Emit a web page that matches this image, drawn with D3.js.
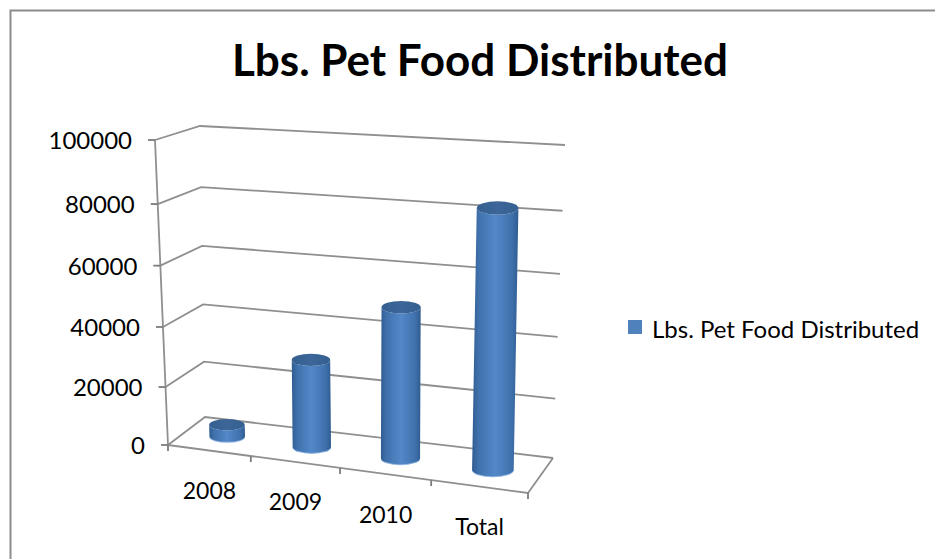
<!DOCTYPE html>
<html>
<head>
<meta charset="utf-8">
<style>
  html, body { margin: 0; padding: 0; background: #fff; }
  svg { display: block; }
  text { font-family: Lato, "Open Sans", sans-serif; fill: #000; }
</style>
<script src="https://cdnjs.cloudflare.com/ajax/libs/d3/7.8.5/d3.min.js"></script>
</head>
<body>
<div id="chart"></div>
<script>
// chart values
var categories = ["2008", "2009", "2010", "Total"];
var values = [4000, 29500, 49500, 83000];
var yTicks = [0, 20000, 40000, 60000, 80000, 100000];
var seriesName = "Lbs. Pet Food Distributed";
var title = "Lbs. Pet Food Distributed";

var svgWidth = 935;
var svgHeight = 559;

// corners of the 3d box as drawn, front/back + left/right, floor and ceiling
var floorFL = [168, 445], floorFR = [528, 493], floorBL = [205, 417], floorBR = [553, 458];
var topFL = [155, 140], topFR = [532, 163], topBL = [200, 126], topBR = [565, 145];

// gridlines get a bit tighter going up the wall, so not a straight line
var heightScale = d3.scaleLinear()
    .domain(yTicks)
    .range([0, 0.19, 0.387, 0.588, 0.79, 1]);

// categories get wider towards the right because of the perspective
var catScale = d3.scaleLinear()
    .domain([0, 1, 2, 3, 4])
    .range([0, 0.23, 0.478, 0.731, 1]);

function mix(a, b, t) {
  return [a[0] + (b[0] - a[0]) * t, a[1] + (b[1] - a[1]) * t];
}

// u = along the category axis, d = depth (0 front, 1 back), both 0-1
function project(u, d, value) {
  var floor = mix(mix(floorFL, floorFR, u), mix(floorBL, floorBR, u), d);
  var ceil = mix(mix(topFL, topFR, u), mix(topBL, topBR, u), d);
  return mix(floor, ceil, heightScale(value));
}

var svg = d3.select("#chart")
    .append("svg")
    .attr("width", svgWidth)
    .attr("height", svgHeight);

var defs = svg.append("defs");

var sideGrad = defs.append("linearGradient").attr("id", "side");
sideGrad.append("stop").attr("offset", "0%").attr("stop-color", "#2f5c90");
sideGrad.append("stop").attr("offset", "14%").attr("stop-color", "#3f71ac");
sideGrad.append("stop").attr("offset", "50%").attr("stop-color", "#5388c8");
sideGrad.append("stop").attr("offset", "86%").attr("stop-color", "#3f71ac");
sideGrad.append("stop").attr("offset", "100%").attr("stop-color", "#2f5c90");

var capGrad = defs.append("linearGradient").attr("id", "cap");
capGrad.append("stop").attr("offset", "0%").attr("stop-color", "#34608f");
capGrad.append("stop").attr("offset", "50%").attr("stop-color", "#3c6699");
capGrad.append("stop").attr("offset", "100%").attr("stop-color", "#34608f");

defs.append("filter").attr("id", "soft")
    .append("feGaussianBlur").attr("stdDeviation", 0.5);

// chart area border, only top and left show in the picture
svg.append("path")
    .attr("d", "M10.5," + svgHeight + "V10.5H" + svgWidth)
    .attr("fill", "none")
    .attr("stroke", "#8c8c8c")
    .attr("stroke-width", 2);

svg.append("text")
    .attr("x", 480)
    .attr("y", 76)
    .attr("text-anchor", "middle")
    .attr("font-size", 44)
    .attr("font-weight", 700)
    .text(title);

var line = d3.line();
var plot = svg.append("g").attr("filter", "url(#soft)");

// gridlines: front axis -> back corner -> back right
plot.selectAll(".grid")
    .data(yTicks)
    .enter()
    .append("path")
    .attr("class", "grid")
    .attr("fill", "none")
    .attr("stroke", "#8f8f8f")
    .attr("stroke-width", 1.8)
    .attr("d", function(v) {
      return line([project(0, 0, v), project(0, 1, v), project(1, 1, v)]);
    });

// value axis with tick marks
plot.append("path")
    .attr("fill", "none")
    .attr("stroke", "#8f8f8f")
    .attr("stroke-width", 1.8)
    .attr("d", line([project(0, 0, 0), project(0, 0, 100000)]));

plot.selectAll(".ytick")
    .data(yTicks)
    .enter()
    .append("path")
    .attr("class", "ytick")
    .attr("fill", "none")
    .attr("stroke", "#7c7c7c")
    .attr("stroke-width", 1.8)
    .attr("d", function(v) {
      var p = project(0, 0, v);
      return line([[p[0] - 7, p[1]], p]);
    });

// floor edges
plot.append("path")
    .attr("fill", "none")
    .attr("stroke", "#8f8f8f")
    .attr("stroke-width", 1.8)
    .attr("d", line([project(0, 0, 0), project(1, 0, 0), project(1, 1, 0)]));

plot.selectAll(".xtick")
    .data(d3.range(categories.length + 1))
    .enter()
    .append("path")
    .attr("class", "xtick")
    .attr("fill", "none")
    .attr("stroke", "#7c7c7c")
    .attr("stroke-width", 1.8)
    .attr("d", function(i) {
      var p = project(catScale(i), 0, 0);
      return line([p, [p[0], p[1] + 6]]);
    });

// cylinders
var bars = plot.selectAll(".bar")
    .data(values)
    .enter()
    .append("g")
    .attr("class", "bar");

function barGeom(v, i) {
  var u = catScale(i + 0.5);
  var base = project(u, 0.5, 0);
  var top = project(u, 0.5, v);
  var band = (catScale(i + 1) - catScale(i)) * (floorFR[0] - floorFL[0]);
  var rx = band * 0.215;
  return {base: base, top: top, rx: rx, ry: rx * 0.32};
}

// light rim at the bottom edge
bars.append("ellipse")
    .attr("cx", function(v, i) { return barGeom(v, i).base[0]; })
    .attr("cy", function(v, i) { return barGeom(v, i).base[1] + 1; })
    .attr("rx", function(v, i) { return barGeom(v, i).rx; })
    .attr("ry", function(v, i) { return barGeom(v, i).ry; })
    .attr("fill", "#8fb4e0");

bars.append("path")
    .attr("fill", "url(#side)")
    .attr("d", function(v, i) {
      var g = barGeom(v, i);
      return "M" + (g.top[0] - g.rx) + "," + g.top[1] +
        "L" + (g.base[0] - g.rx) + "," + g.base[1] +
        "A" + g.rx + "," + g.ry + " 0 0 0 " + (g.base[0] + g.rx) + "," + g.base[1] +
        "L" + (g.top[0] + g.rx) + "," + g.top[1] +
        "A" + g.rx + "," + g.ry + " 0 0 1 " + (g.top[0] - g.rx) + "," + g.top[1] + "Z";
    });

bars.append("ellipse")
    .attr("cx", function(v, i) { return barGeom(v, i).top[0]; })
    .attr("cy", function(v, i) { return barGeom(v, i).top[1]; })
    .attr("rx", function(v, i) { return barGeom(v, i).rx; })
    .attr("ry", function(v, i) { return barGeom(v, i).ry; })
    .attr("fill", "url(#cap)");

// axis labels
svg.selectAll(".ylabel")
    .data(yTicks)
    .enter()
    .append("text")
    .attr("class", "ylabel")
    .attr("font-size", 24)
    .attr("text-anchor", "end")
    .attr("x", function(v) { return project(0, 0, v)[0] - 23; })
    .attr("y", function(v) { return project(0, 0, v)[1] + 9; })
    .text(function(v) { return v; });

svg.selectAll(".xlabel")
    .data(categories)
    .enter()
    .append("text")
    .attr("class", "xlabel")
    .attr("font-size", 23)
    .attr("text-anchor", "middle")
    .attr("x", function(c, i) { return project(catScale(i + 0.5), 0, 0)[0]; })
    .attr("y", function(c, i) { return project(catScale(i + 0.5), 0, 0)[1] + 48.5; })
    .text(function(c) { return c; });

// legend
var legend = svg.append("g");
legend.append("rect")
    .attr("x", 628)
    .attr("y", 320)
    .attr("width", 14)
    .attr("height", 14)
    .attr("fill", "#4f81bd");
legend.append("text")
    .attr("x", 652)
    .attr("y", 338)
    .attr("font-size", 24)
    .text(seriesName);
</script>
</body>
</html>
